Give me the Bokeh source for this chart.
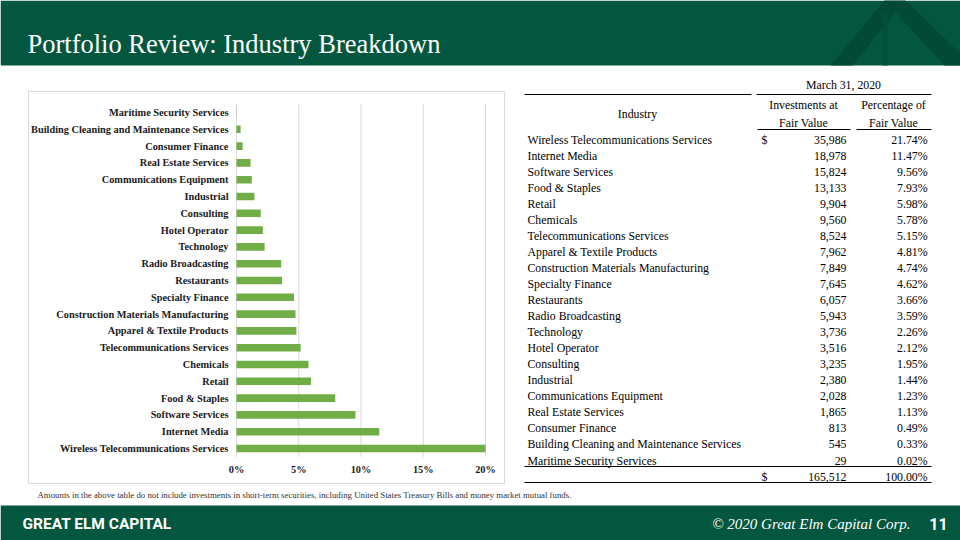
import numpy as np
from bokeh.plotting import figure
from bokeh.models import Range1d
from bokeh.core.properties import value
from bokeh.embed import file_html
from bokeh.resources import INLINE

# ---------------- data ----------------
industries = [
    "Wireless Telecommunications Services",
    "Internet Media",
    "Software Services",
    "Food & Staples",
    "Retail",
    "Chemicals",
    "Telecommunications Services",
    "Apparel & Textile Products",
    "Construction Materials Manufacturing",
    "Specialty Finance",
    "Restaurants",
    "Radio Broadcasting",
    "Technology",
    "Hotel Operator",
    "Consulting",
    "Industrial",
    "Communications Equipment",
    "Real Estate Services",
    "Consumer Finance",
    "Building Cleaning and Maintenance Services",
    "Maritime Security Services",
]
fair_values = [35986, 18978, 15824, 13133, 9904, 9560, 8524, 7962, 7849, 7645,
               6057, 5943, 3736, 3516, 3235, 2380, 2028, 1865, 813, 545, 29]
pct_of_fair_value = [21.74, 11.47, 9.56, 7.93, 5.98, 5.78, 5.15, 4.81, 4.74, 4.62,
                     3.66, 3.59, 2.26, 2.12, 1.95, 1.44, 1.23, 1.13, 0.49, 0.33, 0.02]
total_fair_value = 165512
total_pct = 100.00
axis_ticks = [0, 5, 10, 15, 20]
axis_max = 20
date_label = "March 31, 2020"
title_text = "Portfolio Review: Industry Breakdown"
footnote_text = ("Amounts in the above table do not include investments in short-term securities, "
                 "including United States Treasury Bills and money market mutual funds.")
brand_text = "GREAT ELM CAPITAL"
copyright_text = "\u00a9 2020 Great Elm Capital Corp."
page_number = "11"

# ---------------- styles ----------------
GREEN = "#04573f"
DARK_GREEN = "#034a35"
BAR = "#70ad47"
GRID = "#d9d9d9"
SERIF = value("Liberation Serif")
SANS = value("Roboto")

W, H = 960, 540
p = figure(width=W, height=H, output_backend="svg", toolbar_location=None,
           x_range=Range1d(0, W), y_range=Range1d(H, 0), min_border=0,
           x_axis_location=None, y_axis_location=None)
p.grid.visible = False
p.outline_line_color = None
p.background_fill_color = "white"
p.border_fill_color = "white"

# chart scales (pixel placement of the chart area)
x0_px, x20_px = 236, 485
ppu = (x20_px - x0_px) / axis_max
top_px, bottom_px = 112, 448
n = len(industries)
step = (bottom_px - top_px) / (n - 1)
p.extra_x_ranges = {"pct": Range1d(-x0_px / ppu, (W - x0_px) / ppu)}
p.extra_y_ranges = {"cat": Range1d(-(H - bottom_px) / step, bottom_px / step)}

# ---------------- header ----------------
p.quad(left=[0], right=[W], top=[0], bottom=[65], color=GREEN, line_color=None)
p.patch(x=[884, 905, 852, 830], y=[0, 0, 65, 65], color=DARK_GREEN, line_color=None)
p.patch(x=[884, 905, 972, 944], y=[0, 0, 65, 65], color=DARK_GREEN, line_color=None)
p.patch(x=[882, 887, 887, 882], y=[16, 11, 65, 65], color="#03503a", line_color=None)
p.text(x=[27], y=[43], text=[title_text], text_font=SERIF, text_font_size="26.5px",
       text_color="white", text_align="left", text_baseline="alphabetic")

# ---------------- footer ----------------
p.quad(left=[0], right=[W], top=[505], bottom=[H], color=GREEN, line_color=None)
p.text(x=[22], y=[523], text=[brand_text], text_font=SANS, text_font_style="bold",
       text_font_size="15.5px", text_color="white", text_align="left", text_baseline="middle")
p.text(x=[910], y=[523], text=[copyright_text], text_font=SERIF, text_font_style="italic",
       text_font_size="15px", text_color="white", text_align="right", text_baseline="middle")
p.text(x=[938], y=[523], text=[page_number], text_font=SANS, text_font_style="bold",
       text_font_size="16px", text_color="white", text_align="center", text_baseline="middle")

# ---------------- chart ----------------
p.quad(left=[28], right=[504], top=[91], bottom=[483], fill_color="white",
       line_color=GRID, line_width=1)
idx = np.arange(n)
p.segment(x0=axis_ticks, x1=axis_ticks, y0=[-0.5] * len(axis_ticks), y1=[n - 0.5] * len(axis_ticks),
          line_color=GRID, line_width=1, x_range_name="pct", y_range_name="cat")
bar_right = np.minimum(np.array(pct_of_fair_value), axis_max)
p.hbar(y=idx, left=0, right=bar_right, height=0.45, fill_color=BAR, line_color=None,
       x_range_name="pct", y_range_name="cat")
p.text(x=[-8 / ppu] * n, y=idx, text=industries, text_font=SERIF, text_font_style="bold",
       text_font_size="10.3px", text_color="#1a1a1a", text_align="right", text_baseline="middle",
       x_range_name="pct", y_range_name="cat")
p.text(x=axis_ticks, y=[-1.25] * len(axis_ticks), text=[f"{t}%" for t in axis_ticks],
       text_font=SERIF, text_font_style="bold", text_font_size="10.3px", text_color="#1a1a1a",
       text_align="center", text_baseline="middle", x_range_name="pct", y_range_name="cat")

# ---------------- table ----------------
TF = "11.8px"
ind_x, dollar_x, val_x, pct_x = 527, 761, 846, 927
first_y, row_step = 139, 16.05
row_y = [first_y + i * row_step for i in range(n)]
total_y = 476

p.text(x=[843], y=[84], text=[date_label], text_font=SERIF, text_font_size=TF,
       text_color="black", text_align="center", text_baseline="middle")
p.text(x=[637, 803, 803, 893, 893], y=[113, 104, 122, 104, 122],
       text=["Industry", "Investments at", "Fair Value", "Percentage of", "Fair Value"],
       text_font=SERIF, text_font_size=TF, text_color="black",
       text_align="center", text_baseline="middle")
p.segment(x0=[524, 756, 757, 856, 524, 524], x1=[751, 931, 850, 931, 931, 931],
          y0=[94, 94, 129, 129, 466, 482], y1=[94, 94, 129, 129, 466, 482],
          line_color="black", line_width=1)

p.text(x=[ind_x] * n, y=row_y, text=industries, text_font=SERIF, text_font_size=TF,
       text_color="black", text_align="left", text_baseline="middle")
p.text(x=[val_x] * n, y=row_y, text=[f"{v:,}" for v in fair_values], text_font=SERIF,
       text_font_size=TF, text_color="black", text_align="right", text_baseline="middle")
p.text(x=[pct_x] * n, y=row_y, text=[f"{v:.2f}%" for v in pct_of_fair_value], text_font=SERIF,
       text_font_size=TF, text_color="black", text_align="right", text_baseline="middle")
p.text(x=[dollar_x, dollar_x], y=[row_y[0], total_y], text=["$", "$"], text_font=SERIF,
       text_font_size=TF, text_color="black", text_align="left", text_baseline="middle")
p.text(x=[val_x, pct_x], y=[total_y, total_y],
       text=[f"{total_fair_value:,}", f"{total_pct:.2f}%"], text_font=SERIF,
       text_font_size=TF, text_color="black", text_align="right", text_baseline="middle")

# ---------------- footnote ----------------
p.text(x=[37], y=[494], text=[footnote_text], text_font=SERIF, text_font_size="8.8px",
       text_color="#333333", text_align="left", text_baseline="middle")

open("out.html", "w").write(file_html(p, INLINE))
